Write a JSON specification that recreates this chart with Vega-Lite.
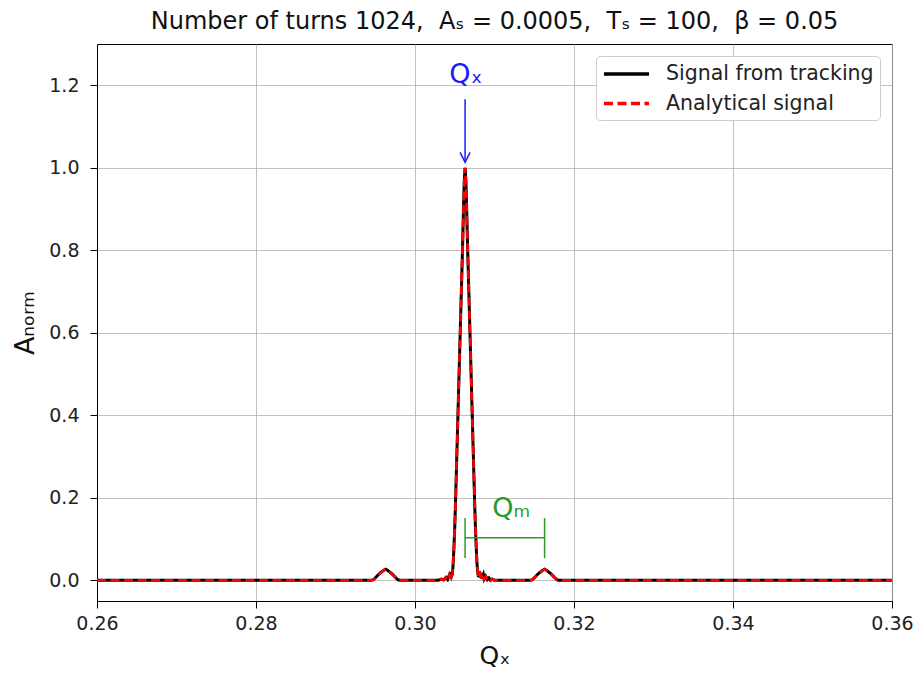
{
  "$schema": "https://vega.github.io/schema/vega-lite/v6.json",
  "width": 795,
  "height": 557,
  "autosize": "none",
  "padding": {"left": 97, "top": 44, "right": 24, "bottom": 72},
  "title": {"text": "Number of turns 1024,\u00a0 Aₛ = 0.0005,\u00a0 Tₛ = 100,\u00a0 β = 0.05", "fontSize": 24, "fontWeight": "normal", "font": "DejaVu Sans", "color": "#111", "offset": 10, "anchor": "middle"},
  "datasets": {
    "sig": [
      {"q": 0.26, "a": 0}, {"q": 0.28, "a": 0}, {"q": 0.2944, "a": 0},
      {"q": 0.2947, "a": 0.001}, {"q": 0.2949, "a": 0.004}, {"q": 0.2951, "a": 0.008}, {"q": 0.2953, "a": 0.012},
      {"q": 0.2955, "a": 0.016}, {"q": 0.2957, "a": 0.019}, {"q": 0.2959, "a": 0.022}, {"q": 0.2961, "a": 0.025},
      {"q": 0.2963, "a": 0.027}, {"q": 0.2965, "a": 0.025}, {"q": 0.2967, "a": 0.022}, {"q": 0.2969, "a": 0.019},
      {"q": 0.2971, "a": 0.016}, {"q": 0.2973, "a": 0.012}, {"q": 0.2975, "a": 0.008}, {"q": 0.2977, "a": 0.004},
      {"q": 0.2979, "a": 0.001}, {"q": 0.2982, "a": 0},
      {"q": 0.3029, "a": 0}, {"q": 0.3033, "a": 0.003}, {"q": 0.3036, "a": 0.001}, {"q": 0.3039, "a": 0.007},
      {"q": 0.3041, "a": 0.002}, {"q": 0.3043, "a": 0.012}, {"q": 0.3044, "a": 0.004}, {"q": 0.3045, "a": 0.02},
      {"q": 0.3046, "a": 0.01}, {"q": 0.3047, "a": 0.015},
      {"q": 0.3048, "a": 0.04}, {"q": 0.3049, "a": 0.08}, {"q": 0.305, "a": 0.13}, {"q": 0.3051, "a": 0.19},
      {"q": 0.3052, "a": 0.26}, {"q": 0.3053, "a": 0.33}, {"q": 0.3054, "a": 0.4}, {"q": 0.3055, "a": 0.47},
      {"q": 0.3056, "a": 0.54}, {"q": 0.3057, "a": 0.61}, {"q": 0.3058, "a": 0.68}, {"q": 0.3059, "a": 0.75},
      {"q": 0.306, "a": 0.82}, {"q": 0.3061, "a": 0.9}, {"q": 0.3062, "a": 0.97}, {"q": 0.3063, "a": 1.0},
      {"q": 0.3064, "a": 0.97}, {"q": 0.3065, "a": 0.9}, {"q": 0.3066, "a": 0.82}, {"q": 0.3067, "a": 0.75},
      {"q": 0.3068, "a": 0.68}, {"q": 0.3069, "a": 0.61}, {"q": 0.307, "a": 0.54}, {"q": 0.3071, "a": 0.47},
      {"q": 0.3072, "a": 0.4}, {"q": 0.3073, "a": 0.33}, {"q": 0.3074, "a": 0.26}, {"q": 0.3075, "a": 0.19},
      {"q": 0.3076, "a": 0.13}, {"q": 0.3077, "a": 0.08}, {"q": 0.3078, "a": 0.04}, {"q": 0.3079, "a": 0.018},
      {"q": 0.308, "a": 0.008}, {"q": 0.3081, "a": 0.022}, {"q": 0.3082, "a": 0.006}, {"q": 0.3083, "a": 0.018},
      {"q": 0.3084, "a": 0.004}, {"q": 0.3086, "a": 0.014}, {"q": 0.3087, "a": 0.003}, {"q": 0.3089, "a": 0.01},
      {"q": 0.3091, "a": 0.002}, {"q": 0.3093, "a": 0.006}, {"q": 0.3095, "a": 0}, {"q": 0.3097, "a": 0.003},
      {"q": 0.31, "a": 0},
      {"q": 0.3144, "a": 0}, {"q": 0.3147, "a": 0.001}, {"q": 0.3149, "a": 0.004}, {"q": 0.3151, "a": 0.008},
      {"q": 0.3153, "a": 0.012}, {"q": 0.3155, "a": 0.016}, {"q": 0.3157, "a": 0.019}, {"q": 0.3159, "a": 0.022},
      {"q": 0.3161, "a": 0.025}, {"q": 0.3163, "a": 0.027}, {"q": 0.3165, "a": 0.025}, {"q": 0.3167, "a": 0.022},
      {"q": 0.3169, "a": 0.019}, {"q": 0.3171, "a": 0.016}, {"q": 0.3173, "a": 0.012}, {"q": 0.3175, "a": 0.008},
      {"q": 0.3177, "a": 0.004}, {"q": 0.3179, "a": 0.001}, {"q": 0.3182, "a": 0},
      {"q": 0.33, "a": 0}, {"q": 0.36, "a": 0}
    ]
  },
  "layer": [
    {
      "data": {"name": "sig"},
      "mark": {"type": "line", "strokeWidth": 3, "clip": true},
      "encoding": {
        "x": {"field": "q", "type": "quantitative", "title": "Qₓ",
              "scale": {"domain": [0.26, 0.36], "nice": false, "zero": false},
              "axis": {"values": [0.26, 0.28, 0.3, 0.32, 0.34, 0.36], "format": ".2f", "labelFlush": false, "labelOverlap": false, "labelPadding": 6, "titlePadding": 10}},
        "y": {"field": "a", "type": "quantitative", "title": "Aₙₒᵣₘ",
              "scale": {"domain": [-0.05, 1.3], "nice": false, "zero": false},
              "axis": {"values": [0, 0.2, 0.4, 0.6, 0.8, 1.0, 1.2], "format": ".1f", "labelFlush": false, "labelOverlap": false, "labelPadding": 11, "titlePadding": 9, "titleFontSize": 27}},
        "color": {"datum": "Signal from tracking", "type": "nominal",
                  "scale": {"domain": ["Signal from tracking", "Analytical signal"], "range": ["black", "red"]},
                  "legend": {"title": null, "orient": "top-right", "offset": 12}},
        "strokeDash": {"datum": "Signal from tracking", "type": "nominal",
                  "scale": {"domain": ["Signal from tracking", "Analytical signal"], "range": [[1, 0], [9, 4.5]]}}
      }
    },
    {
      "data": {"name": "sig"},
      "mark": {"type": "line", "strokeWidth": 2.6, "clip": true},
      "encoding": {
        "x": {"field": "q", "type": "quantitative", "title": "Qₓ"},
        "y": {"field": "a", "type": "quantitative", "title": "Aₙₒᵣₘ"},
        "color": {"datum": "Analytical signal", "type": "nominal"},
        "strokeDash": {"datum": "Analytical signal", "type": "nominal"}
      }
    },
    {
      "data": {"values": [{"q": 0.3063, "a": 1.166, "a2": 1.016}]},
      "mark": {"type": "rule", "color": "#1a1aff", "strokeWidth": 1.5},
      "encoding": {
        "x": {"field": "q", "type": "quantitative", "title": "Qₓ"},
        "y": {"field": "a", "type": "quantitative", "title": "Aₙₒᵣₘ"},
        "y2": {"field": "a2"}
      }
    },
    {
      "data": {"values": [{"q": 0.3063, "a": 1.013}]},
      "mark": {"type": "point", "shape": "M-1,-2L0,0L1,-2", "size": 100, "filled": false, "stroke": "#1a1aff", "strokeWidth": 1.5, "opacity": 1},
      "encoding": {
        "x": {"field": "q", "type": "quantitative", "title": "Qₓ"},
        "y": {"field": "a", "type": "quantitative", "title": "Aₙₒᵣₘ"}
      }
    },
    {
      "data": {"values": [{"q": 0.3064, "a": 1.226, "t": "Qₓ"}]},
      "mark": {"type": "text", "color": "#1a1aff", "fontSize": 27, "font": "DejaVu Sans", "align": "center", "baseline": "middle"},
      "encoding": {
        "x": {"field": "q", "type": "quantitative", "title": "Qₓ"},
        "y": {"field": "a", "type": "quantitative", "title": "Aₙₒᵣₘ"},
        "text": {"field": "t"}
      }
    },
    {
      "data": {"values": [{"q": 0.3063, "q2": 0.3163, "a": 0.103}]},
      "mark": {"type": "rule", "color": "#2a9a2a", "strokeWidth": 1.5},
      "encoding": {
        "x": {"field": "q", "type": "quantitative", "title": "Qₓ"},
        "x2": {"field": "q2"},
        "y": {"field": "a", "type": "quantitative", "title": "Aₙₒᵣₘ"}
      }
    },
    {
      "data": {"values": [{"q": 0.3063, "a": 0.054, "a2": 0.151}, {"q": 0.3163, "a": 0.054, "a2": 0.151}]},
      "mark": {"type": "rule", "color": "#2a9a2a", "strokeWidth": 1.5},
      "encoding": {
        "x": {"field": "q", "type": "quantitative", "title": "Qₓ"},
        "y": {"field": "a", "type": "quantitative", "title": "Aₙₒᵣₘ"},
        "y2": {"field": "a2"}
      }
    },
    {
      "data": {"values": [{"q": 0.3121, "a": 0.173, "t": "Qₘ"}]},
      "mark": {"type": "text", "color": "#2a9a2a", "fontSize": 27, "font": "DejaVu Sans", "align": "center", "baseline": "middle"},
      "encoding": {
        "x": {"field": "q", "type": "quantitative", "title": "Qₓ"},
        "y": {"field": "a", "type": "quantitative", "title": "Aₙₒᵣₘ"},
        "text": {"field": "t"}
      }
    }
  ],
  "config": {
    "font": "DejaVu Sans",
    "view": {"stroke": "black", "strokeWidth": 1},
    "axis": {
      "grid": true, "gridColor": "#b0b0b0", "gridWidth": 0.8,
      "domainColor": "black", "domainWidth": 1, "tickColor": "black", "tickSize": 7, "tickWidth": 1,
      "labelFontSize": 19, "labelColor": "#222", "labelFont": "DejaVu Sans",
      "titleFontSize": 25, "titleFontWeight": "normal", "titleColor": "#111", "titleFont": "DejaVu Sans"
    },
    "legend": {
      "labelFontSize": 20.5, "labelColor": "#222", "labelFont": "DejaVu Sans", "labelLimit": 400,
      "symbolType": "M-1,0L3.5,0", "symbolSize": 400, "symbolStrokeWidth": 3.5, "symbolFillColor": "transparent",
      "padding": 6, "rowPadding": 6.5, "labelOffset": 40,
      "fillColor": "white", "strokeColor": "#cccccc", "cornerRadius": 4
    }
  }
}
